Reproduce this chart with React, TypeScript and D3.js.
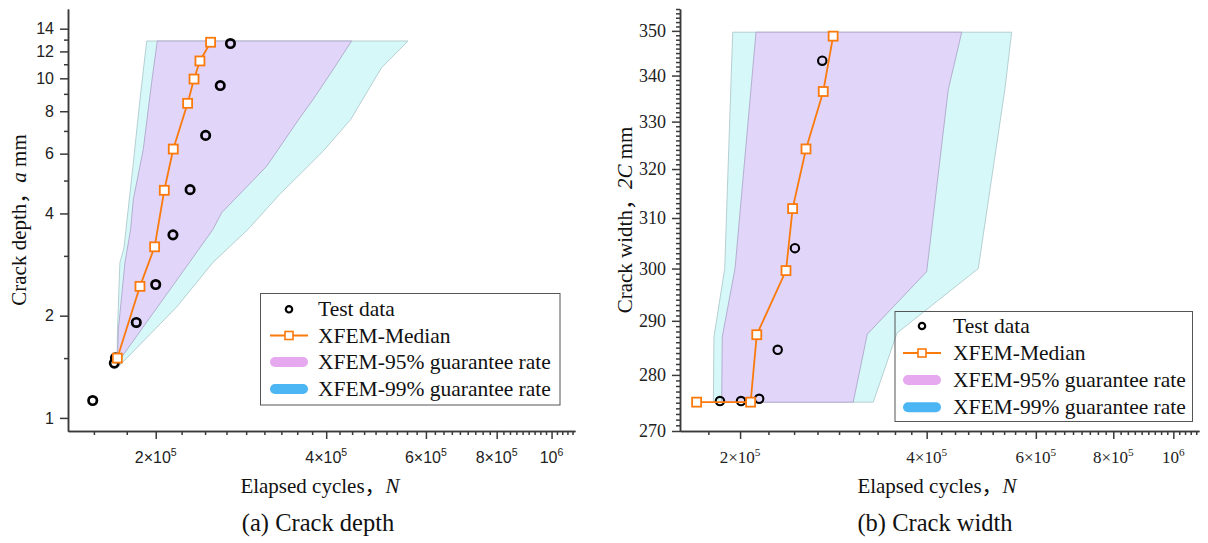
import React, { useEffect, useRef } from "react";
import * as d3 from "d3";

// ---------- (a) Crack depth ----------
const depthTestN = [1.548e5, 1.69e5, 1.698e5, 1.848e5, 2.0e5, 2.145e5, 2.3e5, 2.45e5, 2.6e5, 2.71e5];
const depthTestA = [1.125, 1.45, 1.503, 1.91, 2.47, 3.46, 4.7, 6.79, 9.52, 12.66];
const depthMedN = [1.711e5, 1.876e5, 1.991e5, 2.071e5, 2.148e5, 2.277e5, 2.337e5, 2.394e5, 2.5e5];
const depthMedA = [1.5, 2.44, 3.19, 4.68, 6.19, 8.44, 9.95, 11.25, 12.77];
// band edges, bottom -> top, [N, a]
const depth95Lo = [[1.711e5, 1.45], [1.718e5, 1.82], [1.765e5, 2.87], [1.806e5, 3.59], [1.826e5, 4.4], [1.901e5, 6.17], [1.967e5, 9.73], [2.013e5, 12.88]];
const depth95Hi = [[1.711e5, 1.45], [2.268e5, 2.795], [2.524e5, 3.59], [2.615e5, 4.02], [3.14e5, 5.51], [3.595e5, 7.66], [3.794e5, 8.67], [4.116e5, 10.63], [4.435e5, 12.88]];
const depth99Lo = [[1.708e5, 1.4], [1.712e5, 1.82], [1.729e5, 2.87], [1.758e5, 3.17], [1.772e5, 3.59], [1.823e5, 5.5], [1.876e5, 8.67], [1.928e5, 12.88]];
const depth99Hi = [[1.708e5, 1.4], [2.18e5, 2.125], [2.524e5, 2.87], [2.91e5, 3.59], [3.31e5, 4.55], [3.95e5, 6.1], [4.42e5, 7.57], [5.01e5, 10.75], [5.58e5, 12.88]];
const depthYMajor = [1, 2, 4, 6, 8, 10, 12, 14];
const depthYMinor = [1.5, 3, 5, 7, 9, 11, 13];

// ---------- (b) Crack width ----------
const widthTestN = [1.856e5, 2.007e5, 2.147e5, 2.3e5, 2.452e5, 2.714e5];
const widthTestC = [275.3, 275.3, 275.7, 284.6, 304.0, 343.3];
const widthMedN = [1.702e5, 2.08e5, 2.128e5, 2.372e5, 2.431e5, 2.555e5, 2.724e5, 2.826e5];
const widthMedC = [275.1, 275.1, 287.4, 299.6, 311.9, 324.2, 336.5, 348.8];
const width95Lo = [[1.868e5, 275.1], [1.872e5, 287.0], [1.963e5, 300.0], [2.122e5, 349.7]];
const width95Hi = [[3.045e5, 275.1], [3.208e5, 287.5], [4.0e5, 299.4], [4.334e5, 336.9], [4.556e5, 349.7]];
const width99Lo = [[1.811e5, 275.1], [1.815e5, 287.0], [1.889e5, 300.0], [1.946e5, 349.7]];
const width99Hi = [[3.28e5, 275.1], [3.582e5, 287.7], [4.845e5, 300.0], [5.35e5, 337.1], [5.485e5, 349.7]];
const widthYMajor = [270, 280, 290, 300, 310, 320, 330, 340, 350];

// shared x ticks
const xMajor = [2e5, 4e5, 6e5, 8e5, 1e6];
const xMant = ["2×10", "4×10", "6×10", "8×10", "10"];
const xExp = ["5", "5", "5", "5", "6"];
const legendLabels = ["Test data", "XFEM-Median", "XFEM-95% guarantee rate", "XFEM-99% guarantee rate"];

const SERIF = "'Liberation Serif', 'Times New Roman', 'Noto Sans CJK SC', serif";
const SANS = "'Liberation Sans', Arial, sans-serif";
const ORANGE = "#fb7a0c";
const AXIS = "#3a3a3a";

function drawPanel(svg: any, p: any) {
  const { x, y } = p;
  const g = svg.append("g");
  const pt = (d: number[]) => [x(d[0]), y(d[1])] as [number, number];
  const poly = (lo: number[][], hi: number[][]) =>
    d3.line()(lo.map(pt).concat(hi.slice().reverse().map(pt))) + "Z";

  g.append("path").attr("d", poly(p.lo99, p.hi99))
    .attr("fill", "#d6f8f8").attr("stroke", "#a8c4c8").attr("stroke-width", 0.8);
  g.append("path").attr("d", poly(p.lo95, p.hi95))
    .attr("fill", "#e1d5fa").attr("stroke", "#aaa0c4").attr("stroke-width", 0.8);

  // x axis: 8 minor ticks between majors
  const [x0, x1] = x.domain();
  const step = 2e5 / 9;
  const xMinor: number[] = [];
  for (let i = 1; i * step <= x1; i++) {
    const v = i * step;
    if (i % 9 !== 0 && v >= x0) xMinor.push(v);
  }
  const yBase = y.range()[0];
  const xa = g.append("g").attr("transform", `translate(0,${yBase})`);
  xa.call(d3.axisBottom(x).tickValues(xMinor).tickSize(4).tickSizeOuter(0).tickFormat(() => ""));
  xa.append("g").call(d3.axisBottom(x).tickValues(xMajor).tickSize(8).tickSizeOuter(0).tickFormat(() => ""));
  xa.selectAll("path,line").attr("stroke", AXIS).attr("stroke-width", 1.5);
  xMajor.forEach((v, i) => {
    const t = g.append("text").attr("x", x(v)).attr("y", yBase + 32)
      .attr("text-anchor", "middle").attr("font-family", p.tickFont).attr("font-size", p.xFs).attr("fill", "#222");
    t.append("tspan").text(xMant[i]);
    t.append("tspan").attr("dy", -p.xFs * 0.42).attr("font-size", p.xFs * 0.66).text(xExp[i]);
  });

  // y axis
  const xLeft = x.range()[0];
  const ya = g.append("g").attr("transform", `translate(${xLeft},0)`);
  ya.call(d3.axisLeft(y).tickValues(p.yMinor).tickSize(4).tickSizeOuter(0).tickFormat(() => ""));
  const yb = ya.append("g").call(d3.axisLeft(y).tickValues(p.yMajor).tickSize(8).tickSizeOuter(0).tickPadding(6)
    .tickFormat((d: any) => String(d)));
  ya.selectAll("path,line").attr("stroke", AXIS).attr("stroke-width", 1.5);
  yb.selectAll("text").attr("font-family", p.tickFont).attr("font-size", p.yFs).attr("fill", "#222");

  // test data
  g.append("g").selectAll("circle").data(p.testN).enter().append("circle")
    .attr("cx", (d: number) => x(d)).attr("cy", (d: number, i: number) => y(p.testV[i]))
    .attr("r", 4.2).attr("fill", "none").attr("stroke", "#000").attr("stroke-width", p.circleW);

  // median
  const med = p.medN.map((n: number, i: number) => [x(n), y(p.medV[i])]);
  g.append("path").attr("d", d3.line()(med)).attr("fill", "none").attr("stroke", ORANGE).attr("stroke-width", 1.8);
  g.append("g").selectAll("rect").data(med).enter().append("rect")
    .attr("x", (d: number[]) => d[0] - 4.5).attr("y", (d: number[]) => d[1] - 4.5)
    .attr("width", 9).attr("height", 9).attr("fill", "#fff").attr("stroke", ORANGE).attr("stroke-width", 1.8);

  // legend
  const L = p.legend;
  g.append("rect").attr("x", L.x0).attr("y", L.y0).attr("width", L.x1 - L.x0).attr("height", L.y1 - L.y0)
    .attr("fill", "none").attr("stroke", "#555").attr("stroke-width", 1);
  legendLabels.forEach((lab, i) => {
    const cy = L.rows[i];
    const sx = L.symX;
    if (i === 0) {
      g.append("circle").attr("cx", sx).attr("cy", cy).attr("r", 3.2).attr("fill", "none").attr("stroke", "#000").attr("stroke-width", 2.2);
    } else if (i === 1) {
      g.append("line").attr("x1", sx - 19).attr("x2", sx + 19).attr("y1", cy).attr("y2", cy).attr("stroke", ORANGE).attr("stroke-width", 1.8);
      g.append("rect").attr("x", sx - 4).attr("y", cy - 4).attr("width", 8).attr("height", 8).attr("fill", "#fff").attr("stroke", ORANGE).attr("stroke-width", 1.6);
    } else {
      g.append("rect").attr("x", sx - 19).attr("y", cy - 5).attr("width", 38).attr("height", 10).attr("rx", 5)
        .attr("fill", i === 2 ? "#e6a8ee" : "#4cb5f4");
    }
    g.append("text").attr("x", L.textX).attr("y", cy + 7).attr("font-family", SERIF).attr("font-size", 21.5).attr("fill", "#111").text(lab);
  });

  // titles
  const xt = g.append("text").attr("x", p.xTitleX).attr("y", 493).attr("text-anchor", "middle")
    .attr("font-family", SERIF).attr("font-size", 21).attr("fill", "#111");
  xt.append("tspan").text("Elapsed cycles，");
  xt.append("tspan").attr("font-style", "italic").text("N");
  const yt = g.append("text").attr("transform", `translate(${p.yTitleX},220) rotate(-90)`).attr("text-anchor", "middle")
    .attr("font-family", SERIF).attr("font-size", 21).attr("fill", "#111");
  yt.append("tspan").text(p.yTitle[0]);
  yt.append("tspan").attr("font-style", "italic").text(p.yTitle[1]);
  yt.append("tspan").text(" mm");
  g.append("text").attr("x", p.captionX).attr("y", 531).attr("text-anchor", "middle")
    .attr("font-family", SERIF).attr("font-size", 24.5).attr("fill", "#111").text(p.caption);
}

export default function App() {
  const ref = useRef<SVGSVGElement>(null);

  useEffect(() => {
    document.body.style.margin = "0";
    const svg = d3.select(ref.current);
    svg.selectAll("*").remove();

    drawPanel(svg, {
      x: d3.scaleLog().domain([1.4e5, 1.1e6]).range([68, 575]),
      y: d3.scaleLog().domain([0.915, 16]).range([431, 9]),
      lo99: depth99Lo, hi99: depth99Hi, lo95: depth95Lo, hi95: depth95Hi,
      testN: depthTestN, testV: depthTestA, medN: depthMedN, medV: depthMedA,
      yMajor: depthYMajor, yMinor: depthYMinor,
      tickFont: SANS, xFs: 16, yFs: 16, circleW: 2.7,
      legend: { x0: 260.5, y0: 293.5, x1: 560, y1: 405, rows: [309.3, 335.5, 362, 389], symX: 289, textX: 318 },
      xTitleX: 320, yTitleX: 26, yTitle: ["Crack depth，", "a"], captionX: 318, caption: "(a) Crack depth",
    });

    drawPanel(svg, {
      x: d3.scaleLog().domain([1.6e5, 1.1e6]).range([680, 1199]),
      y: d3.scaleLog().domain([270, 355]).range([431, 9]),
      lo99: width99Lo, hi99: width99Hi, lo95: width95Lo, hi95: width95Hi,
      testN: widthTestN, testV: widthTestC, medN: widthMedN, medV: widthMedC,
      yMajor: widthYMajor, yMinor: d3.range(270, 356).filter((v) => v % 10 !== 0),
      tickFont: SERIF, xFs: 17, yFs: 18, circleW: 2.1,
      legend: { x0: 895, y0: 311.5, x1: 1192.5, y1: 421.5, rows: [326, 353, 380, 407.3], symX: 922, textX: 953 },
      xTitleX: 937, yTitleX: 632, yTitle: ["Crack width，", "2C"], captionX: 935, caption: "(b) Crack width",
    });
  }, []);

  return <svg ref={ref} width={1208} height={543} style={{ display: "block", background: "#fff" }} />;
}
